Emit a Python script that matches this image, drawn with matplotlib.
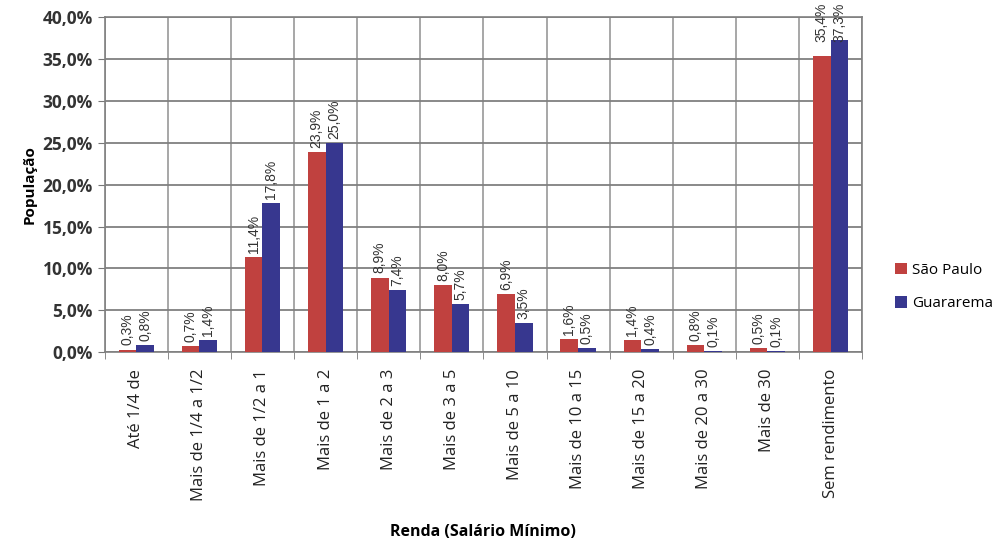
import numpy as np
import matplotlib.pyplot as plt
from matplotlib.ticker import FuncFormatter, MultipleLocator

# faixas de renda e percentuais da população
faixas = ['Até 1/4 de', 'Mais de 1/4 a 1/2', 'Mais de 1/2 a 1', 'Mais de 1 a 2',
          'Mais de 2 a 3', 'Mais de 3 a 5', 'Mais de 5 a 10', 'Mais de 10 a 15',
          'Mais de 15 a 20', 'Mais de 20 a 30', 'Mais de 30', 'Sem rendimento']
sao_paulo = [0.3, 0.7, 11.4, 23.9, 8.9, 8.0, 6.9, 1.6, 1.4, 0.8, 0.5, 35.4]
guararema = [0.8, 1.4, 17.8, 25.0, 7.4, 5.7, 3.5, 0.5, 0.4, 0.1, 0.1, 37.3]

plt.rcParams['font.family'] = ['Open Sans', 'DejaVu Sans']

fig = plt.figure(figsize=(10.06, 5.52), dpi=100)
ax = fig.add_axes([0.104, 0.362, 0.753, 0.607])

x = np.arange(len(faixas))
w = 0.28
b1 = ax.bar(x - w / 2, sao_paulo, w, color='#c0413f', label='São Paulo', zorder=3)
b2 = ax.bar(x + w / 2, guararema, w, color='#37378f', label='Guararema', zorder=3)

def fmt(v):
    return f'{v:.1f}%'.replace('.', ',')

for bars, vals in ((b1, sao_paulo), (b2, guararema)):
    for rect, v in zip(bars, vals):
        cx = rect.get_x() + rect.get_width() / 2
        if v > 33:
            # rótulos altos: encostados no topo da figura, sobre a barra
            ax.annotate(fmt(v), (cx, 1), xycoords=('data', 'figure fraction'),
                        xytext=(0, -2), textcoords='offset points', rotation=90,
                        ha='center', va='top', fontsize=10, color='#333333',
                        family='Liberation Sans', zorder=4)
        else:
            ax.annotate(fmt(v), (cx, rect.get_height()),
                        xytext=(0, 3), textcoords='offset points', rotation=90,
                        ha='center', va='bottom', fontsize=10, color='#333333',
                        family='Liberation Sans', zorder=4)

ax.set_xlim(-0.5, len(faixas) - 0.5)
ax.set_ylim(0, 40)
ax.yaxis.set_major_locator(MultipleLocator(5))
ax.yaxis.set_major_formatter(FuncFormatter(lambda v, p: f'{v:.1f}%'.replace('.', ',')))

ax.set_xticks(x)
ax.set_xticklabels(faixas, rotation=90, fontsize=12, color='#222222')
ax.set_xticks(np.arange(-0.5, len(faixas)), minor=True)
ax.tick_params(axis='x', which='major', length=0, pad=12)
ax.tick_params(axis='x', which='minor', length=5, color='#777777')
ax.tick_params(axis='y', length=5, color='#777777', labelsize=12.5, labelcolor='#333333')
for lbl in ax.get_yticklabels():
    lbl.set_fontweight('bold')

ax.grid(axis='y', color='#808080', linewidth=1.3, zorder=0)
ax.grid(axis='x', which='minor', color='#909090', linewidth=1.1, zorder=0)
for s in ax.spines.values():
    s.set_color('#808080')
    s.set_linewidth(1.2)

ax.set_ylabel('População', fontsize=11, fontweight='bold', labelpad=4)
ax.set_xlabel('Renda (Salário Mínimo)', fontsize=11.5, fontweight='bold', labelpad=16)

fig.legend(loc='center left', bbox_to_anchor=(0.876, 0.48), frameon=False,
           fontsize=11, handlelength=0.8, handleheight=0.8, handletextpad=0.3,
           labelspacing=1.2)

fig.savefig('out.png', dpi=100)
